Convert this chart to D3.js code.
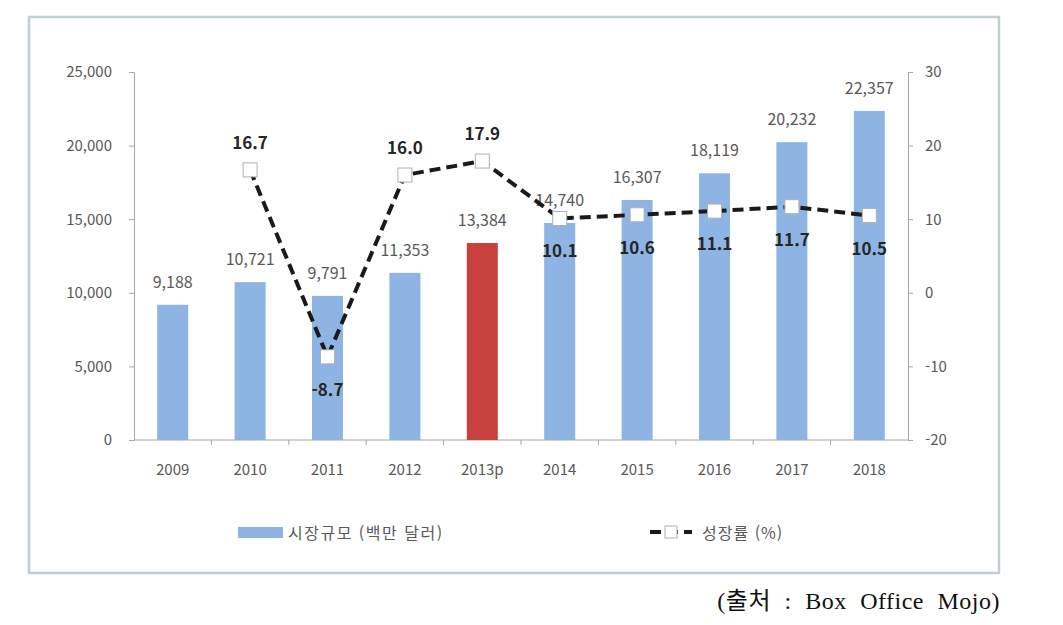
<!DOCTYPE html>
<html lang="ko">
<head>
<meta charset="UTF-8">
<title>시장규모 및 성장률</title>
<script src="https://d3js.org/d3.v7.min.js"></script>
<style>
  body { margin: 0; background: #fff; }
  svg text { font-family: "Noto Sans CJK KR", "Noto Sans", sans-serif; }
</style>
</head>
<body>
<script>
  // ----------- Data ----------- //
  var years = ['2009', '2010', '2011', '2012', '2013p', '2014', '2015', '2016', '2017', '2018'];
  var marketSize = [9188, 10721, 9791, 11353, 13384, 14740, 16307, 18119, 20232, 22357];
  var growth = [null, 16.7, -8.7, 16.0, 17.9, 10.1, 10.6, 11.1, 11.7, 10.5];
  var growthLabelSide = [null, 'up', 'down', 'up', 'up', 'down', 'down', 'down', 'down', 'down'];
  var leftTicks = [0, 5000, 10000, 15000, 20000, 25000];
  var rightTicks = [-20, -10, 0, 10, 20, 30];
  var highlightYear = '2013p';

  // ----------- Layout ----------- //
  var width = 1063, height = 625;
  var plotLeft = 134, plotRight = 908, plotTop = 72, plotBottom = 440;

  var svg = d3.select('body').append('svg')
    .attr('width', width)
    .attr('height', height);

  // outer frame
  svg.append('rect')
    .attr('x', 29).attr('y', 17)
    .attr('width', 970).attr('height', 556)
    .attr('fill', 'white')
    .attr('stroke', '#c3cdd4')
    .attr('stroke-width', 2.5);

  var x = d3.scaleBand().domain(years).range([plotLeft, plotRight]).paddingInner(0).paddingOuter(0);
  var yL = d3.scaleLinear().domain([0, 25000]).range([plotBottom, plotTop]);
  var yR = d3.scaleLinear().domain([-20, 30]).range([plotBottom, plotTop]);

  // ----------- Axes ----------- //
  var fmt = d3.format(',');
  var leftAxis = d3.axisLeft(yL).tickValues(leftTicks).tickFormat(fmt).tickSizeOuter(0).tickSize(5).tickPadding(17);
  var rightAxis = d3.axisRight(yR).tickValues(rightTicks).tickFormat(function(d) { return String(d); })
    .tickSizeOuter(0).tickSize(5).tickPadding(12);

  var gL = svg.append('g').attr('transform', 'translate(' + plotLeft + ',0)').call(leftAxis);
  var gR = svg.append('g').attr('transform', 'translate(' + plotRight + ',0)').call(rightAxis);
  [gL, gR].forEach(function(g) {
    g.select('.domain').attr('stroke', '#a6a6a6');
    g.selectAll('.tick line').attr('stroke', '#a6a6a6');
    g.selectAll('.tick text').attr('fill', '#595959').style('font-size', '15px');
  });

  // x axis baseline with ticks between categories
  var gX = svg.append('g');
  gX.append('line')
    .attr('x1', plotLeft).attr('x2', plotRight)
    .attr('y1', plotBottom).attr('y2', plotBottom)
    .attr('stroke', '#a6a6a6');
  gX.selectAll('.sep').data(years.slice(1))
    .enter().append('line')
    .attr('x1', function(d) { return x(d); })
    .attr('x2', function(d) { return x(d); })
    .attr('y1', plotBottom).attr('y2', plotBottom + 5)
    .attr('stroke', '#a6a6a6');
  gX.selectAll('.xl').data(years)
    .enter().append('text')
    .attr('x', function(d) { return x(d) + x.bandwidth() / 2; })
    .attr('y', plotBottom + 35)
    .attr('text-anchor', 'middle')
    .attr('fill', '#595959')
    .style('font-size', '15px')
    .text(function(d) { return d; });

  // ----------- Bars ----------- //
  var barW = 31;
  svg.selectAll('.bar').data(marketSize)
    .enter().append('rect')
    .attr('x', function(d, i) { return x(years[i]) + x.bandwidth() / 2 - barW / 2; })
    .attr('y', function(d) { return yL(d); })
    .attr('width', barW)
    .attr('height', function(d) { return plotBottom - yL(d); })
    .attr('fill', function(d, i) { return years[i] === highlightYear ? '#c8413f' : '#8db4e3'; });

  svg.selectAll('.barlabel').data(marketSize)
    .enter().append('text')
    .attr('x', function(d, i) { return x(years[i]) + x.bandwidth() / 2; })
    .attr('y', function(d) { return yL(d) - 17; })
    .attr('text-anchor', 'middle')
    .attr('fill', '#595959')
    .style('font-size', '16px')
    .text(function(d) { return fmt(d); });

  // ----------- Growth line ----------- //
  var pts = growth.map(function(g, i) { return { year: years[i], v: g, side: growthLabelSide[i] }; })
    .filter(function(p) { return p.v !== null; });

  var line = d3.line()
    .x(function(p) { return x(p.year) + x.bandwidth() / 2; })
    .y(function(p) { return yR(p.v); });

  svg.append('path')
    .datum(pts)
    .attr('d', line)
    .attr('fill', 'none')
    .attr('stroke', '#1a1a1a')
    .attr('stroke-width', 4)
    .attr('stroke-dasharray', '11,6');

  var mk = 14;
  svg.selectAll('.marker').data(pts)
    .enter().append('rect')
    .attr('x', function(p) { return x(p.year) + x.bandwidth() / 2 - mk / 2; })
    .attr('y', function(p) { return yR(p.v) - mk / 2; })
    .attr('width', mk).attr('height', mk)
    .attr('fill', 'white')
    .attr('stroke', '#b0b0b0')
    .attr('stroke-width', 1);

  svg.selectAll('.glabel').data(pts)
    .enter().append('text')
    .attr('x', function(p) { return x(p.year) + x.bandwidth() / 2; })
    .attr('y', function(p) { return p.side === 'up' ? yR(p.v) - 21 : yR(p.v) + 39; })
    .attr('text-anchor', 'middle')
    .attr('fill', '#262626')
    .style('font-size', '17px')
    .style('font-weight', 'bold')
    .text(function(p) { return p.v.toFixed(1); });

  // ----------- Legend ----------- //
  var legend = svg.append('g');
  legend.append('rect')
    .attr('x', 238).attr('y', 527)
    .attr('width', 45).attr('height', 11)
    .attr('fill', '#8db4e3');
  legend.append('text')
    .attr('x', 288).attr('y', 539)
    .attr('fill', '#595959')
    .style('font-size', '16px')
    .style('letter-spacing', '1.5px')
    .text('시장규모 (백만 달러)');

  legend.append('line')
    .attr('x1', 650).attr('x2', 692)
    .attr('y1', 532).attr('y2', 532)
    .attr('stroke', '#1a1a1a')
    .attr('stroke-width', 4)
    .attr('stroke-dasharray', '11,6');
  legend.append('rect')
    .attr('x', 665).attr('y', 526)
    .attr('width', 12).attr('height', 12)
    .attr('fill', 'white')
    .attr('stroke', '#b0b0b0');
  legend.append('text')
    .attr('x', 702).attr('y', 539)
    .attr('fill', '#595959')
    .style('font-size', '16px')
    .style('letter-spacing', '1px')
    .text('성장률 (%)');

  // ----------- Source ----------- //
  svg.append('text')
    .attr('x', 1000).attr('y', 609)
    .attr('text-anchor', 'end')
    .attr('fill', '#111')
    .style('font-family', '"Liberation Serif", "Noto Sans CJK KR", serif')
    .style('font-size', '24px')
    .style('letter-spacing', '0.5px')
    .style('word-spacing', '7px')
    .text('(출처 : Box Office Mojo)');
</script>
</body>
</html>
